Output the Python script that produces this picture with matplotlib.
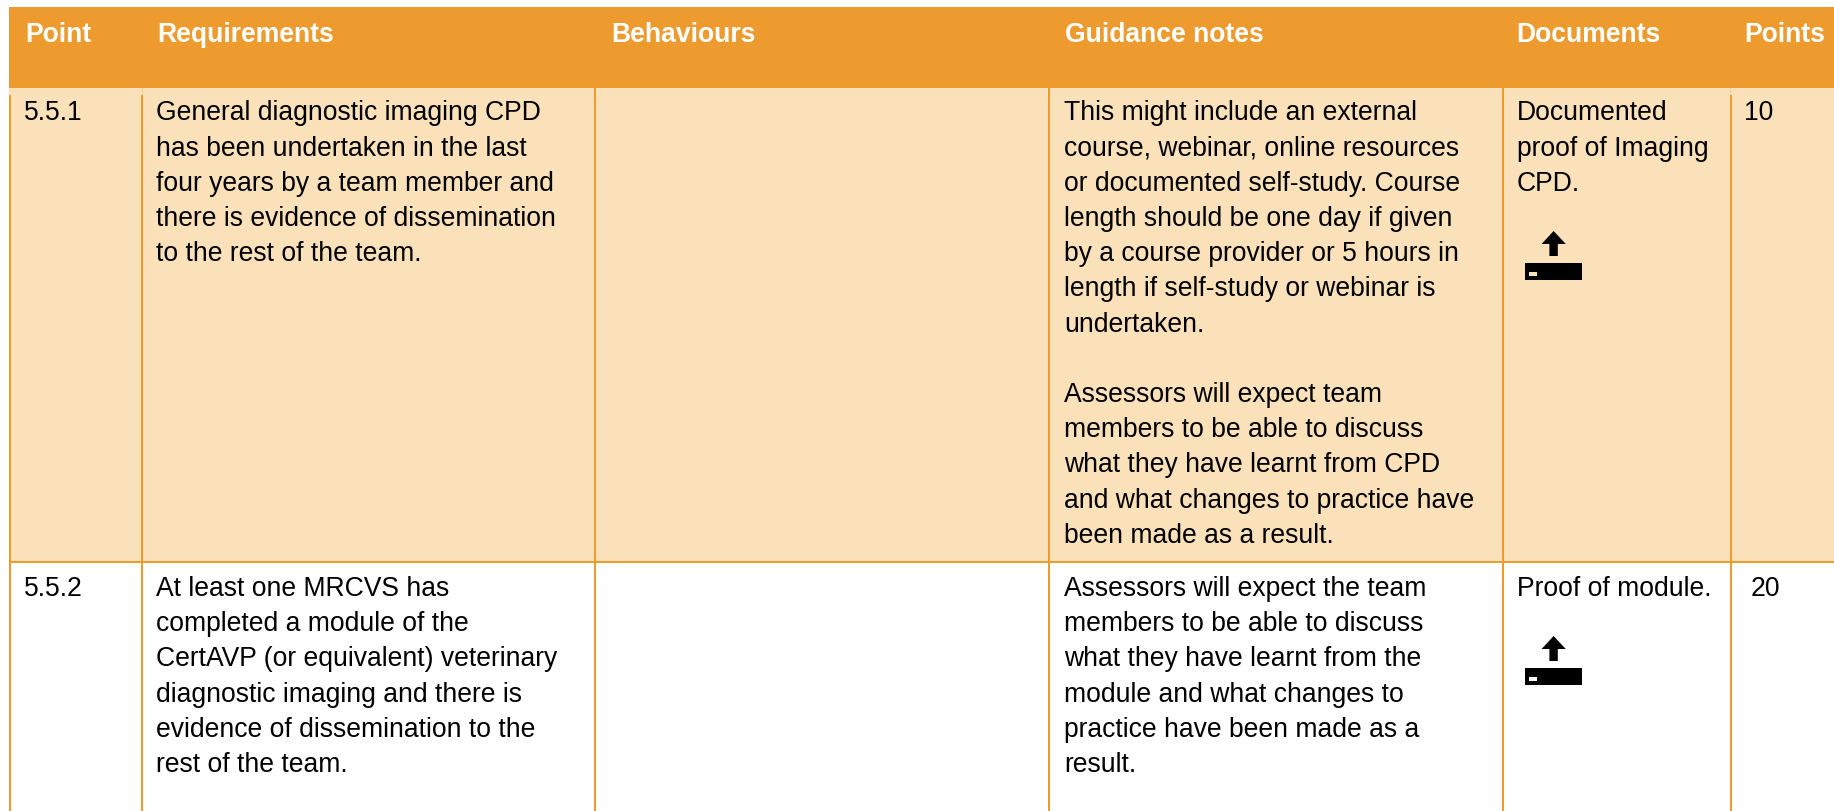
import matplotlib
matplotlib.use('Agg')
import matplotlib.pyplot as plt
from matplotlib.patches import Rectangle, Polygon

plt.rcParams['font.family'] = ['Liberation Sans', 'DejaVu Sans']

# table content
headers = ['Point', 'Requirements', 'Behaviours', 'Guidance notes', 'Documents', 'Points']
row1_point = ['5.5.1']
row1_req = ['General diagnostic imaging CPD', 'has been undertaken in the last',
            'four years by a team member and', 'there is evidence of dissemination',
            'to the rest of the team.']
row1_guid = ['This might include an external', 'course, webinar, online resources',
             'or documented self-study. Course', 'length should be one day if given',
             'by a course provider or 5 hours in', 'length if self-study or webinar is',
             'undertaken.', '',
             'Assessors will expect team', 'members to be able to discuss',
             'what they have learnt from CPD', 'and what changes to practice have',
             'been made as a result.']
row1_docs = ['Documented', 'proof of Imaging', 'CPD.']
row1_points = ['10']
row2_point = ['5.5.2']
row2_req = ['At least one MRCVS has', 'completed a module of the',
            'CertAVP (or equivalent) veterinary', 'diagnostic imaging and there is',
            'evidence of dissemination to the', 'rest of the team.']
row2_guid = ['Assessors will expect the team', 'members to be able to discuss',
             'what they have learnt from the', 'module and what changes to',
             'practice have been made as a', 'result.']
row2_docs = ['Proof of module.']
row2_points = ['20']

# layout in reference pixels
W, H = 1834, 811
col_lines = [10, 142, 594.5, 1049, 1503, 1730.5]
header_x = [25, 157.5, 611, 1065, 1516.5, 1744]
text_x = [24, 156.5, 611, 1064, 1517, 1744.5]
header_top, header_bottom, row_line = 7, 88, 562
line_h = 35.2
first_base = [120.3, 596.0]
header_base = 42.5
FS = 19.1
HEADER_FS = 19.1

ORANGE = '#ED9B2E'
LINE = '#F09B2B'
PEACH = '#FBE1B9'
NOTCH = '#F8CF96'

fig = plt.figure(figsize=(W / 100, H / 100), dpi=100)
ax = fig.add_axes([0, 0, 1, 1])
ax.set_xlim(0, W)
ax.set_ylim(H, 0)
ax.axis('off')

ax.add_patch(Rectangle((9, header_top), W - 9, header_bottom - header_top, fc=ORANGE, ec='none'))
ax.add_patch(Rectangle((9, header_bottom), W - 9, row_line - header_bottom, fc=PEACH, ec='none'))

# grid lines, some start a little under the header
late_start = [0, 1, 5]
for i, x in enumerate(col_lines):
    y0 = 95 if i in late_start else header_bottom
    ax.add_patch(Rectangle((x - 1, y0), 2, H - y0, fc=LINE, ec='none', zorder=2))
    if i in late_start[1:]:
        ax.add_patch(Rectangle((x - 0.5, header_bottom), 1, 7, fc=NOTCH, ec='none', zorder=2))
ax.add_patch(Rectangle((9, row_line - 1), W - 9, 2, fc=LINE, ec='none', zorder=2))

for x, h in zip(header_x, headers):
    ax.text(x, header_base, h, color='white', fontsize=HEADER_FS, fontweight='bold',
            va='baseline', ha='left', zorder=3)


def cell(x, y, lines):
    for n, s in enumerate(lines):
        if s:
            ax.text(x, y + n * line_h, s, color='black', fontsize=FS,
                    va='baseline', ha='left', zorder=3)


cell(text_x[0], first_base[0], row1_point)
cell(text_x[1], first_base[0], row1_req)
cell(text_x[3], first_base[0], row1_guid)
cell(text_x[4], first_base[0], row1_docs)
cell(text_x[5], first_base[0], row1_points)

cell(text_x[0], first_base[1], row2_point)
cell(text_x[1], first_base[1], row2_req)
cell(text_x[3], first_base[1], row2_guid)
cell(text_x[4], first_base[1], row2_docs)
cell(1751, first_base[1], row2_points)


def upload_icon(top, bg):
    # arrow above a tray
    ax.add_patch(Polygon([(1553.6, top), (1565.8, top + 13), (1557.8, top + 13), (1557.8, top + 25),
                          (1549.4, top + 25), (1549.4, top + 13), (1541.6, top + 13)],
                         closed=True, fc='black', ec='none', zorder=3))
    ax.add_patch(Rectangle((1525, top + 32), 57.3, 17, fc='black', ec='none', zorder=3))
    ax.add_patch(Rectangle((1529, top + 40.5), 8.3, 4, fc=bg, ec='none', zorder=4))


upload_icon(231, PEACH)
upload_icon(636, 'white')

fig.savefig('out.png', dpi=100, facecolor='white')
